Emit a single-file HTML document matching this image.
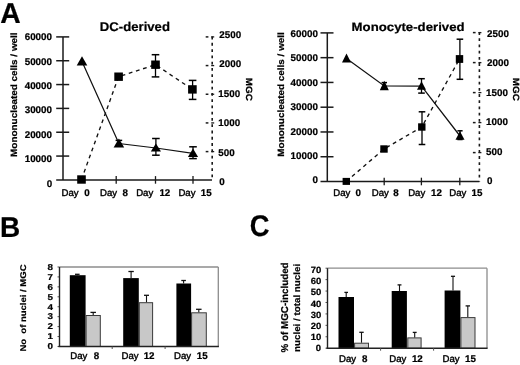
<!DOCTYPE html>
<html><head><meta charset="utf-8"><style>
html,body{margin:0;padding:0;background:#fff;overflow:hidden;}
svg{display:block;will-change:transform;filter:blur(0.25px);}
text{font-family:"Liberation Sans",sans-serif;fill:#000;}
</style></head><body>
<svg width="520" height="365" viewBox="0 0 520 365" text-rendering="geometricPrecision">
<rect width="520" height="365" fill="#fff"/>
<line x1="63" y1="36.9" x2="63" y2="179.9" stroke="#1a1a1a" stroke-width="1.5"/>
<line x1="56.2" y1="36.9" x2="69.2" y2="36.9" stroke="#1a1a1a" stroke-width="1.5"/>
<line x1="56.2" y1="60.733333333333334" x2="69.2" y2="60.733333333333334" stroke="#1a1a1a" stroke-width="1.5"/>
<line x1="56.2" y1="84.56666666666666" x2="69.2" y2="84.56666666666666" stroke="#1a1a1a" stroke-width="1.5"/>
<line x1="56.2" y1="108.4" x2="69.2" y2="108.4" stroke="#1a1a1a" stroke-width="1.5"/>
<line x1="56.2" y1="132.23333333333332" x2="69.2" y2="132.23333333333332" stroke="#1a1a1a" stroke-width="1.5"/>
<line x1="56.2" y1="156.06666666666666" x2="69.2" y2="156.06666666666666" stroke="#1a1a1a" stroke-width="1.5"/>
<line x1="56.2" y1="179.9" x2="212" y2="179.9" stroke="#1a1a1a" stroke-width="1.5"/>
<line x1="116.2" y1="176.1" x2="116.2" y2="183.70000000000002" stroke="#1a1a1a" stroke-width="1.3"/>
<line x1="155.5" y1="176.1" x2="155.5" y2="183.70000000000002" stroke="#1a1a1a" stroke-width="1.3"/>
<line x1="193" y1="176.1" x2="193" y2="183.70000000000002" stroke="#1a1a1a" stroke-width="1.3"/>
<line x1="212.2" y1="36.6" x2="212.2" y2="179.9" stroke="#1a1a1a" stroke-width="1.6" stroke-dasharray="2.8 3.465"/>
<line x1="205.7" y1="36.9" x2="208.39999999999998" y2="36.9" stroke="#1a1a1a" stroke-width="1.5"/>
<line x1="211.2" y1="36.9" x2="214.2" y2="36.9" stroke="#1a1a1a" stroke-width="1.3"/>
<line x1="205.7" y1="65.57499999999999" x2="208.39999999999998" y2="65.57499999999999" stroke="#1a1a1a" stroke-width="1.5"/>
<line x1="211.2" y1="65.57499999999999" x2="214.2" y2="65.57499999999999" stroke="#1a1a1a" stroke-width="1.3"/>
<line x1="205.7" y1="94.25" x2="208.39999999999998" y2="94.25" stroke="#1a1a1a" stroke-width="1.5"/>
<line x1="211.2" y1="94.25" x2="214.2" y2="94.25" stroke="#1a1a1a" stroke-width="1.3"/>
<line x1="205.7" y1="122.92499999999998" x2="208.39999999999998" y2="122.92499999999998" stroke="#1a1a1a" stroke-width="1.5"/>
<line x1="211.2" y1="122.92499999999998" x2="214.2" y2="122.92499999999998" stroke="#1a1a1a" stroke-width="1.3"/>
<line x1="205.7" y1="151.6" x2="208.39999999999998" y2="151.6" stroke="#1a1a1a" stroke-width="1.5"/>
<line x1="211.2" y1="151.6" x2="214.2" y2="151.6" stroke="#1a1a1a" stroke-width="1.3"/>
<polyline points="82,61.449999999999996 118.9,143.5 155.9,148.0 193,153.3" fill="none" stroke="#111" stroke-width="1.25"/>
<polyline points="81.5,179.5 118.6,76.7 155.5,64.7 192.4,89.4" fill="none" stroke="#111" stroke-width="1.35" stroke-dasharray="3.8 3.7"/>
<line x1="118.9" y1="140.4" x2="118.9" y2="146" stroke="#000" stroke-width="1.3"/>
<line x1="115.60000000000001" y1="140.4" x2="122.2" y2="140.4" stroke="#000" stroke-width="1.5"/>
<line x1="115.60000000000001" y1="146" x2="122.2" y2="146" stroke="#000" stroke-width="1.5"/>
<line x1="155.9" y1="138.5" x2="155.9" y2="155.2" stroke="#000" stroke-width="1.3"/>
<line x1="152.1" y1="138.5" x2="159.70000000000002" y2="138.5" stroke="#000" stroke-width="1.5"/>
<line x1="152.1" y1="155.2" x2="159.70000000000002" y2="155.2" stroke="#000" stroke-width="1.5"/>
<line x1="193" y1="146.8" x2="193" y2="158.6" stroke="#000" stroke-width="1.3"/>
<line x1="189.2" y1="146.8" x2="196.8" y2="146.8" stroke="#000" stroke-width="1.5"/>
<line x1="189.2" y1="158.6" x2="196.8" y2="158.6" stroke="#000" stroke-width="1.5"/>
<line x1="155.5" y1="54.7" x2="155.5" y2="76.9" stroke="#000" stroke-width="1.3"/>
<line x1="151.7" y1="54.7" x2="159.3" y2="54.7" stroke="#000" stroke-width="1.5"/>
<line x1="151.7" y1="76.9" x2="159.3" y2="76.9" stroke="#000" stroke-width="1.5"/>
<line x1="192.6" y1="80.4" x2="192.6" y2="99.4" stroke="#000" stroke-width="1.3"/>
<line x1="188.79999999999998" y1="80.4" x2="196.4" y2="80.4" stroke="#000" stroke-width="1.5"/>
<line x1="188.79999999999998" y1="99.4" x2="196.4" y2="99.4" stroke="#000" stroke-width="1.5"/>
<polygon points="82,56.3 76.7,65.6 87.3,65.6" fill="#000"/>
<polygon points="118.9,138.5 113.60000000000001,147.5 124.2,147.5" fill="#000"/>
<polygon points="155.9,143.4 150.8,151.6 161.0,151.6" fill="#000"/>
<polygon points="193,148.6 187.9,157 198.1,157" fill="#000"/>
<rect x="77.2" y="175.3" width="8.6" height="8.4" fill="#000"/>
<rect x="114.3" y="72.5" width="8.6" height="8.4" fill="#000"/>
<rect x="151.2" y="60.5" width="8.6" height="8.4" fill="#000"/>
<rect x="188.1" y="85.2" width="8.6" height="8.4" fill="#000"/>
<line x1="327.3" y1="32.9" x2="327.3" y2="181.5" stroke="#1a1a1a" stroke-width="1.5"/>
<line x1="320.5" y1="32.9" x2="333.5" y2="32.9" stroke="#1a1a1a" stroke-width="1.5"/>
<line x1="320.5" y1="57.666666666666664" x2="333.5" y2="57.666666666666664" stroke="#1a1a1a" stroke-width="1.5"/>
<line x1="320.5" y1="82.43333333333334" x2="333.5" y2="82.43333333333334" stroke="#1a1a1a" stroke-width="1.5"/>
<line x1="320.5" y1="107.19999999999999" x2="333.5" y2="107.19999999999999" stroke="#1a1a1a" stroke-width="1.5"/>
<line x1="320.5" y1="131.96666666666667" x2="333.5" y2="131.96666666666667" stroke="#1a1a1a" stroke-width="1.5"/>
<line x1="320.5" y1="156.73333333333332" x2="333.5" y2="156.73333333333332" stroke="#1a1a1a" stroke-width="1.5"/>
<line x1="320.5" y1="181.5" x2="479.4" y2="181.5" stroke="#1a1a1a" stroke-width="1.5"/>
<line x1="384.2" y1="177.7" x2="384.2" y2="185.3" stroke="#1a1a1a" stroke-width="1.3"/>
<line x1="421.4" y1="177.7" x2="421.4" y2="185.3" stroke="#1a1a1a" stroke-width="1.3"/>
<line x1="459.8" y1="177.7" x2="459.8" y2="185.3" stroke="#1a1a1a" stroke-width="1.3"/>
<line x1="479.4" y1="32.1" x2="479.4" y2="181.5" stroke="#1a1a1a" stroke-width="1.6" stroke-dasharray="2.8 3.4"/>
<line x1="472.9" y1="32.6" x2="475.59999999999997" y2="32.6" stroke="#1a1a1a" stroke-width="1.5"/>
<line x1="478.4" y1="32.6" x2="481.4" y2="32.6" stroke="#1a1a1a" stroke-width="1.3"/>
<line x1="472.9" y1="62.6" x2="475.59999999999997" y2="62.6" stroke="#1a1a1a" stroke-width="1.5"/>
<line x1="478.4" y1="62.6" x2="481.4" y2="62.6" stroke="#1a1a1a" stroke-width="1.3"/>
<line x1="472.9" y1="92.6" x2="475.59999999999997" y2="92.6" stroke="#1a1a1a" stroke-width="1.5"/>
<line x1="478.4" y1="92.6" x2="481.4" y2="92.6" stroke="#1a1a1a" stroke-width="1.3"/>
<line x1="472.9" y1="122.6" x2="475.59999999999997" y2="122.6" stroke="#1a1a1a" stroke-width="1.5"/>
<line x1="478.4" y1="122.6" x2="481.4" y2="122.6" stroke="#1a1a1a" stroke-width="1.3"/>
<line x1="472.9" y1="152.6" x2="475.59999999999997" y2="152.6" stroke="#1a1a1a" stroke-width="1.5"/>
<line x1="478.4" y1="152.6" x2="481.4" y2="152.6" stroke="#1a1a1a" stroke-width="1.3"/>
<polyline points="346.5,58.6 384.3,86.0 421.5,86.05 460,136.0" fill="none" stroke="#111" stroke-width="1.25"/>
<polyline points="346.3,181.4 384,149.0 421.8,127.0 459.5,59" fill="none" stroke="#111" stroke-width="1.35" stroke-dasharray="3.8 3.7"/>
<line x1="384.3" y1="82.6" x2="384.3" y2="88" stroke="#000" stroke-width="1.3"/>
<line x1="381.6" y1="82.6" x2="387.0" y2="82.6" stroke="#000" stroke-width="1.5"/>
<line x1="381.6" y1="88" x2="387.0" y2="88" stroke="#000" stroke-width="1.5"/>
<line x1="421.5" y1="78.7" x2="421.5" y2="93.1" stroke="#000" stroke-width="1.3"/>
<line x1="418.2" y1="78.7" x2="424.8" y2="78.7" stroke="#000" stroke-width="1.5"/>
<line x1="418.2" y1="93.1" x2="424.8" y2="93.1" stroke="#000" stroke-width="1.5"/>
<line x1="460" y1="130.8" x2="460" y2="139.5" stroke="#000" stroke-width="1.3"/>
<line x1="457.4" y1="130.8" x2="462.6" y2="130.8" stroke="#000" stroke-width="1.5"/>
<line x1="457.4" y1="139.5" x2="462.6" y2="139.5" stroke="#000" stroke-width="1.5"/>
<line x1="422" y1="111.8" x2="422" y2="144.5" stroke="#000" stroke-width="1.3"/>
<line x1="418.7" y1="111.8" x2="425.3" y2="111.8" stroke="#000" stroke-width="1.5"/>
<line x1="418.7" y1="144.5" x2="425.3" y2="144.5" stroke="#000" stroke-width="1.5"/>
<line x1="459.9" y1="39.2" x2="459.9" y2="79.3" stroke="#000" stroke-width="1.3"/>
<line x1="456.59999999999997" y1="39.2" x2="463.2" y2="39.2" stroke="#000" stroke-width="1.5"/>
<line x1="456.59999999999997" y1="79.3" x2="463.2" y2="79.3" stroke="#000" stroke-width="1.5"/>
<polygon points="346.5,53.6 342.0,62.6 351.0,62.6" fill="#000"/>
<polygon points="384.3,80.8 379.8,90.2 388.8,90.2" fill="#000"/>
<polygon points="421.5,81.3 417.0,89.8 426.0,89.8" fill="#000"/>
<polygon points="460,131.2 455.5,139.8 464.5,139.8" fill="#000"/>
<rect x="342.6" y="177.9" width="7.4" height="7.0" fill="#000"/>
<rect x="380.3" y="145.3" width="7.4" height="7.4" fill="#000"/>
<rect x="418.1" y="123.3" width="7.4" height="7.4" fill="#000"/>
<rect x="455.8" y="55.1" width="7.4" height="7.8" fill="#000"/>
<line x1="59.5" y1="267" x2="218.3" y2="267" stroke="#8c8c8c" stroke-width="1.3"/>
<line x1="218.3" y1="267" x2="218.3" y2="346.5" stroke="#8c8c8c" stroke-width="1.3"/>
<line x1="57.5" y1="346.5" x2="59.5" y2="346.5" stroke="#555" stroke-width="1"/>
<line x1="57.5" y1="336.56" x2="59.5" y2="336.56" stroke="#555" stroke-width="1"/>
<line x1="57.5" y1="326.62" x2="59.5" y2="326.62" stroke="#555" stroke-width="1"/>
<line x1="57.5" y1="316.68" x2="59.5" y2="316.68" stroke="#555" stroke-width="1"/>
<line x1="57.5" y1="306.74" x2="59.5" y2="306.74" stroke="#555" stroke-width="1"/>
<line x1="57.5" y1="296.8" x2="59.5" y2="296.8" stroke="#555" stroke-width="1"/>
<line x1="57.5" y1="286.86" x2="59.5" y2="286.86" stroke="#555" stroke-width="1"/>
<line x1="57.5" y1="276.92" x2="59.5" y2="276.92" stroke="#555" stroke-width="1"/>
<line x1="57.5" y1="266.98" x2="59.5" y2="266.98" stroke="#555" stroke-width="1"/>
<rect x="69.8" y="275.2" width="15.8" height="71.3" fill="#000"/>
<rect x="86.1" y="315.5" width="14.2" height="31.0" fill="#c8c8c8" stroke="#3a3a3a" stroke-width="1"/>
<rect x="123.2" y="278.1" width="15.6" height="68.4" fill="#000"/>
<rect x="139.3" y="302.7" width="13.3" height="43.8" fill="#c8c8c8" stroke="#3a3a3a" stroke-width="1"/>
<rect x="176.4" y="283.5" width="14.7" height="63.0" fill="#000"/>
<rect x="191.6" y="312.8" width="14.7" height="33.7" fill="#c8c8c8" stroke="#3a3a3a" stroke-width="1"/>
<line x1="77.3" y1="274.3" x2="77.3" y2="275.2" stroke="#111" stroke-width="1.1"/>
<line x1="75.0" y1="274.3" x2="79.6" y2="274.3" stroke="#111" stroke-width="1.3"/>
<line x1="93.2" y1="312.4" x2="93.2" y2="315" stroke="#111" stroke-width="1.1"/>
<line x1="90.45" y1="312.4" x2="95.95" y2="312.4" stroke="#111" stroke-width="1.3"/>
<line x1="131.1" y1="271.5" x2="131.1" y2="278.1" stroke="#111" stroke-width="1.1"/>
<line x1="128.4" y1="271.5" x2="133.79999999999998" y2="271.5" stroke="#111" stroke-width="1.3"/>
<line x1="146.5" y1="295.3" x2="146.5" y2="302.2" stroke="#111" stroke-width="1.1"/>
<line x1="144.0" y1="295.3" x2="149.0" y2="295.3" stroke="#111" stroke-width="1.3"/>
<line x1="183.6" y1="280.5" x2="183.6" y2="283.5" stroke="#111" stroke-width="1.1"/>
<line x1="181.29999999999998" y1="280.5" x2="185.9" y2="280.5" stroke="#111" stroke-width="1.3"/>
<line x1="198.8" y1="309.3" x2="198.8" y2="312.3" stroke="#111" stroke-width="1.1"/>
<line x1="196.05" y1="309.3" x2="201.55" y2="309.3" stroke="#111" stroke-width="1.3"/>
<line x1="59.5" y1="267" x2="59.5" y2="346.5" stroke="#222" stroke-width="1.4"/>
<line x1="58.5" y1="346.5" x2="218.9" y2="346.5" stroke="#222" stroke-width="1.5"/>
<line x1="112.2" y1="346.5" x2="112.2" y2="349.0" stroke="#555" stroke-width="1"/>
<line x1="165.1" y1="346.5" x2="165.1" y2="349.0" stroke="#555" stroke-width="1"/>
<line x1="327.5" y1="268.2" x2="487" y2="268.2" stroke="#8c8c8c" stroke-width="1.3"/>
<line x1="487" y1="268.2" x2="487" y2="348.2" stroke="#8c8c8c" stroke-width="1.3"/>
<line x1="325.5" y1="348.2" x2="327.5" y2="348.2" stroke="#555" stroke-width="1"/>
<line x1="325.5" y1="336.77" x2="327.5" y2="336.77" stroke="#555" stroke-width="1"/>
<line x1="325.5" y1="325.34" x2="327.5" y2="325.34" stroke="#555" stroke-width="1"/>
<line x1="325.5" y1="313.90999999999997" x2="327.5" y2="313.90999999999997" stroke="#555" stroke-width="1"/>
<line x1="325.5" y1="302.48" x2="327.5" y2="302.48" stroke="#555" stroke-width="1"/>
<line x1="325.5" y1="291.05" x2="327.5" y2="291.05" stroke="#555" stroke-width="1"/>
<line x1="325.5" y1="279.62" x2="327.5" y2="279.62" stroke="#555" stroke-width="1"/>
<line x1="325.5" y1="268.19" x2="327.5" y2="268.19" stroke="#555" stroke-width="1"/>
<rect x="338.5" y="297" width="15.5" height="51.2" fill="#000"/>
<rect x="354.6" y="343.2" width="13.9" height="5.0" fill="#c8c8c8" stroke="#3a3a3a" stroke-width="1"/>
<rect x="391.7" y="291" width="15.2" height="57.2" fill="#000"/>
<rect x="407.8" y="337.9" width="13.3" height="10.3" fill="#c8c8c8" stroke="#3a3a3a" stroke-width="1"/>
<rect x="444.6" y="290.5" width="15.8" height="57.7" fill="#000"/>
<rect x="460.9" y="317.6" width="14.1" height="30.6" fill="#c8c8c8" stroke="#3a3a3a" stroke-width="1"/>
<line x1="346.2" y1="292.4" x2="346.2" y2="297" stroke="#111" stroke-width="1.1"/>
<line x1="344.4" y1="292.4" x2="348.0" y2="292.4" stroke="#111" stroke-width="1.3"/>
<line x1="361.5" y1="332.3" x2="361.5" y2="342.7" stroke="#111" stroke-width="1.1"/>
<line x1="359.3" y1="332.3" x2="363.7" y2="332.3" stroke="#111" stroke-width="1.3"/>
<line x1="399.5" y1="284.9" x2="399.5" y2="291" stroke="#111" stroke-width="1.1"/>
<line x1="397.55" y1="284.9" x2="401.45" y2="284.9" stroke="#111" stroke-width="1.3"/>
<line x1="414.7" y1="332.4" x2="414.7" y2="337.4" stroke="#111" stroke-width="1.1"/>
<line x1="412.75" y1="332.4" x2="416.65" y2="332.4" stroke="#111" stroke-width="1.3"/>
<line x1="453" y1="276.3" x2="453" y2="290.5" stroke="#111" stroke-width="1.1"/>
<line x1="450.95" y1="276.3" x2="455.05" y2="276.3" stroke="#111" stroke-width="1.3"/>
<line x1="467.8" y1="305.9" x2="467.8" y2="317.1" stroke="#111" stroke-width="1.1"/>
<line x1="465.6" y1="305.9" x2="470.0" y2="305.9" stroke="#111" stroke-width="1.3"/>
<line x1="327.5" y1="268.2" x2="327.5" y2="348.2" stroke="#222" stroke-width="1.4"/>
<line x1="326.5" y1="348.2" x2="487.6" y2="348.2" stroke="#222" stroke-width="1.5"/>
<line x1="380.6" y1="348.2" x2="380.6" y2="350.7" stroke="#555" stroke-width="1"/>
<line x1="433.6" y1="348.2" x2="433.6" y2="350.7" stroke="#555" stroke-width="1"/>
<text font-size="28" font-weight="bold" stroke="#000" stroke-width="0.215" transform="translate(0.3,23.0) scale(1.0111,1.0316)">A</text>
<text font-size="28" font-weight="bold" stroke="#000" stroke-width="0.218" transform="translate(-0.1,237.1) scale(1.0,1.0211)">B</text>
<text font-size="28" font-weight="bold" stroke="#000" stroke-width="0.216" transform="translate(249.75,236.25) scale(0.9722,1.0684)">C</text>
<text font-size="13" font-weight="bold" stroke="#000" stroke-width="0.221" transform="translate(99.85,30.7) scale(1.0103,0.9778)">DC-derived</text>
<text font-size="13" font-weight="bold" stroke="#000" stroke-width="0.227" transform="translate(351.62,30.62) scale(1.0151,0.9292)">Monocyte-derived</text>
<text font-size="9.8" font-weight="bold" stroke="#000" stroke-width="0.227" transform="translate(16.85,156.9) rotate(-90) scale(1.012,0.93)">Mononucleated cells / well</text>
<text font-size="9.8" font-weight="bold" stroke="#000" stroke-width="0.227" transform="translate(283.95,156.65) rotate(-90) scale(1.012,0.93)">Mononucleated cells / well</text>
<text font-size="9.8" font-weight="bold" stroke="#000" stroke-width="0.228" transform="translate(246.2,77.75) rotate(90) scale(1.016,0.92)">MGC</text>
<text font-size="9.8" font-weight="bold" stroke="#000" stroke-width="0.228" transform="translate(512.6,77.8) rotate(90) scale(1.016,0.92)">MGC</text>
<text font-size="9.4" font-weight="bold" stroke="#000" stroke-width="0.232" transform="translate(25.6,351.6) rotate(-90) scale(1.0141,0.8857)">No  of nuclei / MGC</text>
<text font-size="9.8" font-weight="bold" stroke="#000" stroke-width="0.218" transform="translate(288.25,352.4) rotate(-90) scale(1.0022,1.0143)">% of MGC-included</text>
<text font-size="9.8" font-weight="bold" stroke="#000" stroke-width="0.228" transform="translate(299.85,351.95) rotate(-90) scale(0.9989,0.9286)">nuclei / total nuclei</text>
<text font-size="10" font-weight="bold" stroke="#000" stroke-width="0.224" transform="translate(24.7,40.1) scale(0.98,0.98)">60000</text>
<text font-size="10" font-weight="bold" stroke="#000" stroke-width="0.224" transform="translate(24.7,64.52) scale(0.98,0.98)">50000</text>
<text font-size="10" font-weight="bold" stroke="#000" stroke-width="0.224" transform="translate(24.7,88.94) scale(0.98,0.98)">40000</text>
<text font-size="10" font-weight="bold" stroke="#000" stroke-width="0.224" transform="translate(24.7,113.36) scale(0.98,0.98)">30000</text>
<text font-size="10" font-weight="bold" stroke="#000" stroke-width="0.224" transform="translate(24.7,137.78) scale(0.98,0.98)">20000</text>
<text font-size="10" font-weight="bold" stroke="#000" stroke-width="0.224" transform="translate(24.7,162.2) scale(0.98,0.98)">10000</text>
<text font-size="10" font-weight="bold" stroke="#000" stroke-width="0.224" transform="translate(46.7,186.62) scale(0.98,0.98)">0</text>
<text font-size="10" font-weight="bold" stroke="#000" stroke-width="0.224" transform="translate(290.6,36.8) scale(0.98,0.98)">60000</text>
<text font-size="10" font-weight="bold" stroke="#000" stroke-width="0.224" transform="translate(290.6,61.24) scale(0.98,0.98)">50000</text>
<text font-size="10" font-weight="bold" stroke="#000" stroke-width="0.224" transform="translate(290.6,85.68) scale(0.98,0.98)">40000</text>
<text font-size="10" font-weight="bold" stroke="#000" stroke-width="0.224" transform="translate(290.6,110.12) scale(0.98,0.98)">30000</text>
<text font-size="10" font-weight="bold" stroke="#000" stroke-width="0.224" transform="translate(290.6,134.56) scale(0.98,0.98)">20000</text>
<text font-size="10" font-weight="bold" stroke="#000" stroke-width="0.224" transform="translate(290.6,159.0) scale(0.98,0.98)">10000</text>
<text font-size="10" font-weight="bold" stroke="#000" stroke-width="0.224" transform="translate(312.6,183.44) scale(0.98,0.98)">0</text>
<text font-size="10" font-weight="bold" stroke="#000" stroke-width="0.224" transform="translate(219.3,38.1) scale(0.98,0.98)">2500</text>
<text font-size="10" font-weight="bold" stroke="#000" stroke-width="0.224" transform="translate(219.3,67.45) scale(0.98,0.98)">2000</text>
<text font-size="10" font-weight="bold" stroke="#000" stroke-width="0.224" transform="translate(218.3,96.8) scale(0.98,0.98)">1500</text>
<text font-size="10" font-weight="bold" stroke="#000" stroke-width="0.224" transform="translate(218.3,126.15) scale(0.98,0.98)">1000</text>
<text font-size="10" font-weight="bold" stroke="#000" stroke-width="0.224" transform="translate(218.3,155.5) scale(0.98,0.98)">500</text>
<text font-size="10" font-weight="bold" stroke="#000" stroke-width="0.224" transform="translate(219.3,184.85) scale(0.98,0.98)">0</text>
<text font-size="10" font-weight="bold" stroke="#000" stroke-width="0.224" transform="translate(487.1,37.0) scale(0.98,0.98)">2500</text>
<text font-size="10" font-weight="bold" stroke="#000" stroke-width="0.224" transform="translate(487.1,66.45) scale(0.98,0.98)">2000</text>
<text font-size="10" font-weight="bold" stroke="#000" stroke-width="0.224" transform="translate(486.1,95.9) scale(0.98,0.98)">1500</text>
<text font-size="10" font-weight="bold" stroke="#000" stroke-width="0.224" transform="translate(486.1,125.35) scale(0.98,0.98)">1000</text>
<text font-size="10" font-weight="bold" stroke="#000" stroke-width="0.224" transform="translate(486.1,154.8) scale(0.98,0.98)">500</text>
<text font-size="10" font-weight="bold" stroke="#000" stroke-width="0.224" transform="translate(487.1,184.25) scale(0.98,0.98)">0</text>
<text font-size="10" stroke="#000" stroke-width="0.415" transform="translate(61.5,195.85) scale(0.96,0.97)">Day</text>
<text font-size="10" font-weight="bold" stroke="#000" stroke-width="0.224" transform="translate(84.2,195.85) scale(0.98,0.98)">0</text>
<text font-size="10" stroke="#000" stroke-width="0.415" transform="translate(100.05,195.85) scale(0.96,0.97)">Day</text>
<text font-size="10" font-weight="bold" stroke="#000" stroke-width="0.224" transform="translate(122.5,195.85) scale(0.98,0.98)">8</text>
<text font-size="10" stroke="#000" stroke-width="0.415" transform="translate(136.15,195.85) scale(0.96,0.97)">Day</text>
<text font-size="10" font-weight="bold" stroke="#000" stroke-width="0.224" transform="translate(159.4,195.85) scale(0.98,0.98)">12</text>
<text font-size="10" stroke="#000" stroke-width="0.415" transform="translate(178.4,195.85) scale(0.96,0.97)">Day</text>
<text font-size="10" font-weight="bold" stroke="#000" stroke-width="0.224" transform="translate(200.75,195.85) scale(0.98,0.98)">15</text>
<text font-size="10" stroke="#000" stroke-width="0.415" transform="translate(333.2,196.45) scale(0.96,0.97)">Day</text>
<text font-size="10" font-weight="bold" stroke="#000" stroke-width="0.224" transform="translate(355.45,196.45) scale(0.98,0.98)">0</text>
<text font-size="10" stroke="#000" stroke-width="0.415" transform="translate(371.8,196.45) scale(0.96,0.97)">Day</text>
<text font-size="10" font-weight="bold" stroke="#000" stroke-width="0.224" transform="translate(393.35,196.45) scale(0.98,0.98)">8</text>
<text font-size="10" stroke="#000" stroke-width="0.415" transform="translate(408.15,196.45) scale(0.96,0.97)">Day</text>
<text font-size="10" font-weight="bold" stroke="#000" stroke-width="0.224" transform="translate(431.0,196.45) scale(0.98,0.98)">12</text>
<text font-size="10" stroke="#000" stroke-width="0.415" transform="translate(449.2,196.45) scale(0.96,0.97)">Day</text>
<text font-size="10" font-weight="bold" stroke="#000" stroke-width="0.224" transform="translate(471.5,196.45) scale(0.98,0.98)">15</text>
<text font-size="9.5" font-weight="bold" stroke="#000" stroke-width="0.227" transform="translate(47.6,349.1) scale(1.04,0.9)">0</text>
<text font-size="9.5" font-weight="bold" stroke="#000" stroke-width="0.227" transform="translate(47.6,339.2) scale(1.04,0.9)">1</text>
<text font-size="9.5" font-weight="bold" stroke="#000" stroke-width="0.227" transform="translate(47.6,329.3) scale(1.04,0.9)">2</text>
<text font-size="9.5" font-weight="bold" stroke="#000" stroke-width="0.227" transform="translate(47.6,319.4) scale(1.04,0.9)">3</text>
<text font-size="9.5" font-weight="bold" stroke="#000" stroke-width="0.227" transform="translate(47.6,309.5) scale(1.04,0.9)">4</text>
<text font-size="9.5" font-weight="bold" stroke="#000" stroke-width="0.227" transform="translate(47.6,299.6) scale(1.04,0.9)">5</text>
<text font-size="9.5" font-weight="bold" stroke="#000" stroke-width="0.227" transform="translate(47.6,289.7) scale(1.04,0.9)">6</text>
<text font-size="9.5" font-weight="bold" stroke="#000" stroke-width="0.227" transform="translate(47.6,279.8) scale(1.04,0.9)">7</text>
<text font-size="9.5" font-weight="bold" stroke="#000" stroke-width="0.227" transform="translate(47.6,269.9) scale(1.04,0.9)">8</text>
<text font-size="9.5" font-weight="bold" stroke="#000" stroke-width="0.226" transform="translate(315.7,351.4) scale(1.0,0.95)">0</text>
<text font-size="9.5" font-weight="bold" stroke="#000" stroke-width="0.226" transform="translate(310.7,340.2) scale(1.0,0.95)">10</text>
<text font-size="9.5" font-weight="bold" stroke="#000" stroke-width="0.226" transform="translate(310.7,329.0) scale(1.0,0.95)">20</text>
<text font-size="9.5" font-weight="bold" stroke="#000" stroke-width="0.226" transform="translate(310.7,317.8) scale(1.0,0.95)">30</text>
<text font-size="9.5" font-weight="bold" stroke="#000" stroke-width="0.226" transform="translate(310.7,306.6) scale(1.0,0.95)">40</text>
<text font-size="9.5" font-weight="bold" stroke="#000" stroke-width="0.226" transform="translate(310.7,295.4) scale(1.0,0.95)">50</text>
<text font-size="9.5" font-weight="bold" stroke="#000" stroke-width="0.226" transform="translate(310.7,284.2) scale(1.0,0.95)">60</text>
<text font-size="9.5" font-weight="bold" stroke="#000" stroke-width="0.226" transform="translate(310.7,273.0) scale(1.0,0.95)">70</text>
<text font-size="10" stroke="#000" stroke-width="0.415" transform="translate(70.25,358.85) scale(0.96,0.97)">Day</text>
<text font-size="10" font-weight="bold" stroke="#000" stroke-width="0.224" transform="translate(93.7,358.85) scale(0.98,0.98)">8</text>
<text font-size="10" stroke="#000" stroke-width="0.415" transform="translate(121.5,358.85) scale(0.96,0.97)">Day</text>
<text font-size="10" font-weight="bold" stroke="#000" stroke-width="0.224" transform="translate(143.65,358.85) scale(0.98,0.98)">12</text>
<text font-size="10" stroke="#000" stroke-width="0.415" transform="translate(174.1,358.85) scale(0.96,0.97)">Day</text>
<text font-size="10" font-weight="bold" stroke="#000" stroke-width="0.224" transform="translate(196.75,358.85) scale(0.98,0.98)">15</text>
<text font-size="10" stroke="#000" stroke-width="0.415" transform="translate(339.0,362.05) scale(0.96,0.97)">Day</text>
<text font-size="10" font-weight="bold" stroke="#000" stroke-width="0.224" transform="translate(361.9,362.05) scale(0.98,0.98)">8</text>
<text font-size="10" stroke="#000" stroke-width="0.415" transform="translate(389.3,362.05) scale(0.96,0.97)">Day</text>
<text font-size="10" font-weight="bold" stroke="#000" stroke-width="0.224" transform="translate(411.9,362.05) scale(0.98,0.98)">12</text>
<text font-size="10" stroke="#000" stroke-width="0.415" transform="translate(442.55,362.05) scale(0.96,0.97)">Day</text>
<text font-size="10" font-weight="bold" stroke="#000" stroke-width="0.224" transform="translate(465.0,362.05) scale(0.98,0.98)">15</text>
</svg>
</body></html>
